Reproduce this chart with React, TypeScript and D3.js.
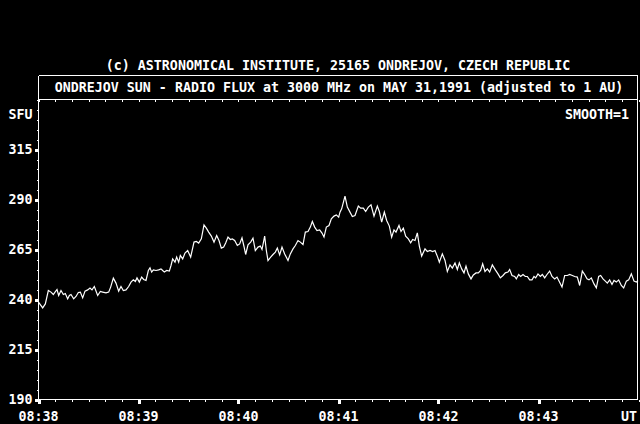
import React from 'react';
import * as d3 from 'd3';

// seconds after 08:38:00 UT
const seconds = [
  0.1, 2.5, 4.1, 5.9, 7.5, 8.9, 9.9, 11.1, 12.1, 13.5, 14.9, 16.1, 17.5, 18.5, 19.5, 21.1, 22.5, 23.9, 25.1, 26.5,
  27.9, 29.5, 30.9, 32.1, 33.5, 35.5, 37.1, 38.5, 40.5, 42.1, 43.3, 44.9, 46.5, 48.1, 49.5, 50.9, 52.5, 54.1, 55.5, 56.9,
  58.1, 59.1, 60.5, 61.9, 63.1, 64.5, 65.9, 66.9, 67.9, 68.9, 70.5, 72.1, 73.5, 74.5, 75.5, 76.9, 78.5, 79.5, 80.5, 81.9,
  82.9, 84.1, 85.1, 86.5, 87.9, 89.5,
  91.3, 93.3, 94.7, 96.1, 97.7, 99.3, 100.7, 102.1, 103.7, 105.3, 106.9, 108.3, 109.7, 111.1, 112.3, 113.7, 115.1, 116.3,
  117.7, 119.3, 120.7, 122.1, 123.3, 124.3, 125.7, 127.3, 128.7, 130.1, 131.7, 133.1, 134.1, 135.7, 136.7, 137.7, 139.3,
  140.7, 142.1, 143.3, 144.7, 146.1, 147.7, 149.7, 151.1, 152.7, 154.1, 155.7, 157.1, 158.7, 160.1, 161.7, 163.1, 164.3,
  165.7, 167.1, 168.7, 170.1, 171.3, 172.7, 174.3, 175.7, 177.3, 178.7, 180.1,
  180.9, 181.9, 183.9, 185.3, 186.9, 188.3, 189.9, 191.9, 193.3, 194.9, 196.3, 197.9, 199.5, 201.3, 203.3, 204.5, 205.9,
  207.5, 208.9, 210.5, 211.9, 213.3, 214.5, 216.3, 217.5, 218.9, 220.3, 221.9, 223.3, 224.5, 225.9, 227.3, 228.5, 229.9,
  231.9, 233.3, 234.9, 236.5, 237.9, 239.5, 240.5, 242.3, 243.9, 245.3, 246.9, 248.3, 249.9, 251.3, 252.5, 253.9, 255.3,
  256.5, 257.9, 259.5, 260.9, 262.5, 263.9, 265.3, 266.5, 267.9, 269.3,
  270.7, 272.3, 274.1, 275.7, 277.1, 278.7, 280.1, 281.7, 282.7, 284.1, 285.7, 286.7, 288.1, 289.3, 290.7, 292.1, 293.3,
  294.7, 296.1, 297.3, 298.3, 299.7, 301.1, 302.3, 303.7, 305.1, 306.7, 308.1, 309.7, 311.1, 312.3, 314.1, 315.7, 317.3,
  318.7, 320.3, 321.7, 323.3, 324.7, 326.3, 327.7, 329.1, 330.3, 331.7, 333.3, 334.7, 336.1, 337.3, 338.7, 340.1, 341.3,
  342.7, 344.1, 345.3, 346.7, 348.1, 349.7, 351.1, 352.7, 354.1, 355.7, 357.3, 358.7, 359.7,
];

// radio flux, SFU
const flux = [
  238.6, 235.8, 237.8, 244.5, 243.7, 242.5, 243.7, 245, 242, 244.5, 242.5, 243, 240.3, 242, 242.5, 240.3, 241.5, 243.5,
  243.7, 240.8, 244.2, 244.8, 245.7, 244.8, 246.5, 242, 244, 243.7, 243.3, 243.7, 246.2, 250.7, 248.2, 244.2, 246.5,
  244.5, 244.8, 246.5, 248.7, 249.8, 249, 250.8, 248.7, 251.2, 250, 249.5, 254.5, 255.8, 253.7, 254.8, 254.5, 254.8,
  255.3, 254.5, 253.7, 254.5, 254.2, 257, 260.3, 258.7, 261.2, 258.7, 262, 260.3, 263.2, 264.5,
  261.2, 268.7, 269, 268.2, 270.3, 277.3, 275.7, 273.7, 271.7, 268.7, 272, 269.5, 265.7, 266.2, 268.3, 271.2, 270, 270.3,
  269.5, 267, 267.8, 270.8, 266.5, 262.5, 267.3, 268.7, 270.7, 264.5, 266.2, 266.7, 265, 271.7, 264.5, 259.5, 261.2,
  262.5, 263.7, 265.7, 262.3, 266.2, 262.8, 259.5, 262.8, 265.3, 267, 269.5, 268.7, 267.5, 273.7, 274, 276.2, 279,
  276.2, 274.5, 274.8, 273.2, 271.2, 276.2, 277, 280.3, 281.7, 282.3, 281.2,
  283.7, 285.3, 291.7, 286.2, 283.7, 281.5, 282, 286.7, 285.7, 285.7, 284, 286.2, 287.3, 281.7, 286.7, 284, 278.7,
  283.7, 279.5, 276.7, 271.2, 274.8, 273.7, 277, 274, 275.7, 271.7, 270.3, 268.3, 270, 269.5, 273.3, 266.7, 261.7,
  265.3, 264, 264.5, 264, 264.5, 261.2, 258.7, 262.8, 259.5, 254, 257.3, 255.7, 258.3, 255, 258.3, 255.3, 253.3,
  256.7, 252.8, 250.3, 252.3, 253.3, 253.3, 254.5, 257.8, 254, 255.3,
  253.7, 257.3, 254.8, 252.8, 250.8, 252, 253.3, 253.7, 255, 252, 251.5, 250.3, 252.5, 251.5, 252.5, 251.5, 251.5,
  249.8, 249.8, 251.5, 250.8, 252.8, 251.5, 252.5, 250.8, 252.5, 254.2, 251.5, 250.3, 251.2, 249.2, 246.2, 252, 252,
  252.5, 252, 251.5, 251.2, 247, 254.2, 252.5, 250.3, 249.8, 250.8, 247.8, 245.8, 251.5, 252, 250.3, 249.2, 248.2,
  249.8, 247.5, 249.5, 248.7, 249.8, 247, 245.8, 249.2, 249.8, 252.8, 249.2, 248.7, 249.5,
];

const yLabels = [190, 215, 240, 265, 290, 315];
const xLabels = ['08:38', '08:39', '08:40', '08:41', '08:42', '08:43'];
const copyright = '(c) ASTRONOMICAL INSTITUTE, 25165 ONDREJOV, CZECH REPUBLIC';
const title = 'ONDREJOV SUN - RADIO FLUX at 3000 MHz on MAY 31,1991 (adjusted to 1 AU)';

const W = 640;
const H = 424;
const left = 38.5;
const right = 637.5;
const top = 99.5;
const bottom = 399.5;
const boxTop = 75.5;

const font = '"DejaVu Sans Mono", monospace';

export default function App() {
  const x = d3.scaleLinear().domain([0, 360]).range([left, left + 600]);
  const y = d3.scaleLinear().domain([190, 340]).range([bottom, top]);

  const line = d3
    .line<number>()
    .x((_, i) => x(seconds[i]))
    .y((d) => y(d));

  const yMinor = d3.range(190, 341, 5);
  const xMinor = d3.range(0, 361, 10);

  const txt = {
    fill: '#fff',
    fontFamily: font,
    fontSize: 13.3,
    fontWeight: 'bold' as const,
  };

  return (
    <svg
      width={W}
      height={H}
      style={{ position: 'fixed', left: 0, top: 0, background: '#000' }}
    >
      <rect width={W} height={H} fill="#000" />

      <text x={338} y={69.5} textAnchor="middle" {...txt}>{copyright}</text>

      {/* title box + plot frame */}
      <g stroke="#fff" strokeWidth={1} fill="none" shapeRendering="crispEdges">
        <line x1={left} x2={right} y1={boxTop} y2={boxTop} />
        <line x1={left} x2={right} y1={top} y2={top} />
        <line x1={left} x2={right} y1={bottom} y2={bottom} />
        <line x1={left} x2={left} y1={boxTop} y2={bottom} />
        <line x1={right} x2={right} y1={boxTop} y2={bottom} />

        {yMinor.map((v) => (
          <line key={'ym' + v} x1={left - 2} x2={left} y1={Math.round(y(v)) + 0.5} y2={Math.round(y(v)) + 0.5} />
        ))}
        {xMinor.map((s) => (
          <g key={'xm' + s}>
            <line x1={Math.round(x(s)) + 0.5} x2={Math.round(x(s)) + 0.5} y1={bottom} y2={bottom + 2.5} />
            <line x1={Math.round(x(s)) + 0.5} x2={Math.round(x(s)) + 0.5} y1={top} y2={top + 2} />
          </g>
        ))}
      </g>

      <g fill="#fff" shapeRendering="crispEdges">
        {yLabels.map((v) => (
          <rect key={'yM' + v} x={left - 3.5} y={Math.round(y(v)) - 1} width={3} height={3} />
        ))}
        {xLabels.map((_, i) => (
          <rect key={'xM' + i} x={Math.round(x(i * 60)) - 1} y={bottom} width={3} height={4} />
        ))}
      </g>

      <text x={339} y={91.7} textAnchor="middle" {...txt}>{title}</text>

      <text x={32.5} y={119} textAnchor="end" {...txt}>SFU</text>
      <text x={629} y={119} textAnchor="end" {...txt}>SMOOTH=1</text>

      {yLabels.map((v) => (
        <text key={'yl' + v} x={32.5} y={y(v) + 4.5} textAnchor="end" {...txt}>
          {v}
        </text>
      ))}
      {xLabels.map((l, i) => (
        <text key={'xl' + l} x={x(i * 60)} y={420.5} textAnchor="middle" {...txt}>
          {l}
        </text>
      ))}
      <text x={637} y={420.5} textAnchor="end" {...txt}>UT</text>

      <path d={line(flux) ?? ''} fill="none" stroke="#fff" strokeWidth={1.2} strokeLinejoin="miter" />
    </svg>
  );
}
